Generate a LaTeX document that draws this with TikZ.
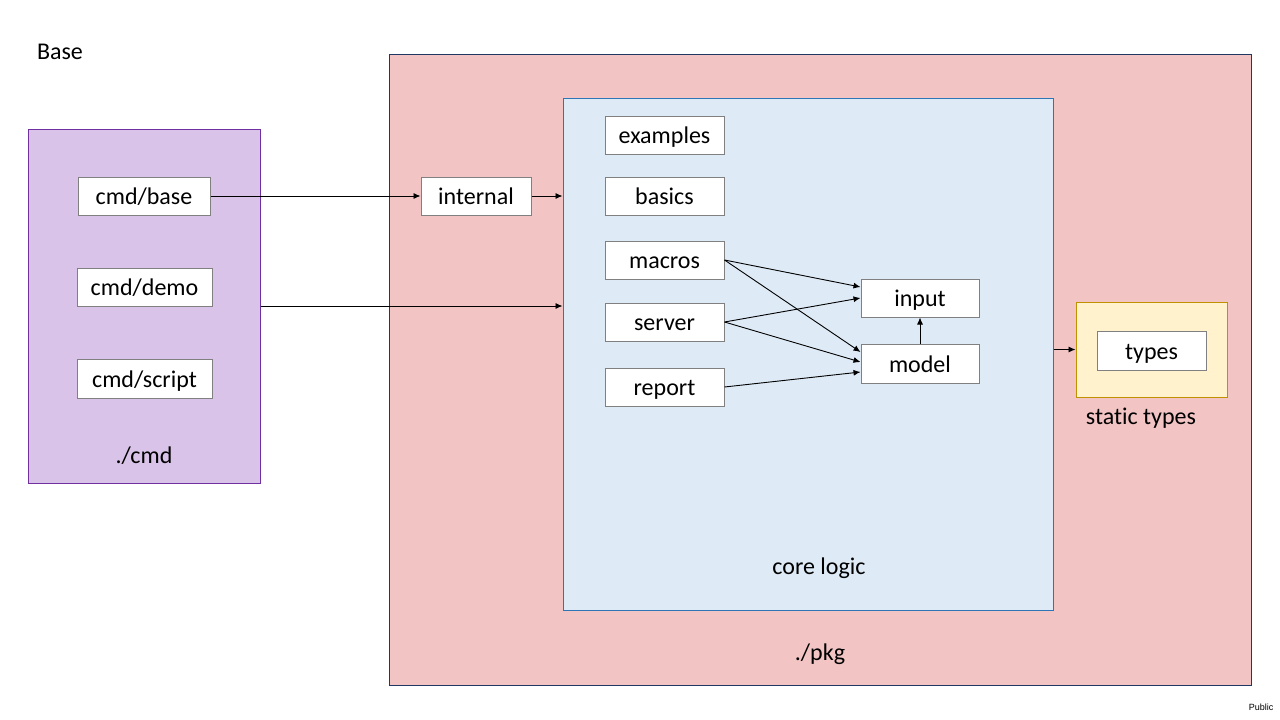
\documentclass[tikz,border=0pt]{standalone}
\usepackage{fontspec}
\setmainfont{Carlito}[Ligatures=NoCommon]
\newfontfamily\tagfont{Liberation Sans}
\usetikzlibrary{arrows.meta}
\definecolor{cmdfill}{HTML}{D9C3E9}
\definecolor{cmdline}{HTML}{7030A0}
\definecolor{pkgfill}{HTML}{F2C4C4}
\definecolor{pkgline}{HTML}{203864}
\definecolor{corefill}{HTML}{DEEBF7}
\definecolor{coreline}{HTML}{2E75B6}
\definecolor{typefill}{HTML}{FFF2CC}
\definecolor{typeline}{HTML}{BF9000}
\definecolor{boxgray}{HTML}{808080}
\begin{document}
\begin{tikzpicture}[x=1pt,y=-1pt,
group/.style={line width=1pt,inner sep=0pt},
txt/.style={text height=17pt,text depth=0pt},
box/.style={txt,draw=boxgray,fill=white,line width=1pt,inner sep=0pt,minimum height=38pt,minimum width=119pt},
arr/.style={-{Latex[length=7pt,width=6pt]},line width=0.9pt}
]
\fontsize{24}{28}\selectfont
\useasboundingbox[fill=white] (0,0) rectangle (1280,720);
% containers
\node[group,draw=cmdline,fill=cmdfill,minimum width=232pt,minimum height=354pt] (cmd) at (144,306) {};
\node[group,draw=pkgline,fill=pkgfill,minimum width=862pt,minimum height=631pt] (pkg) at (820,369.5) {};
\node[group,draw=coreline,fill=corefill,minimum width=490pt,minimum height=512pt] (core) at (808,354) {};
\node[group,draw=typeline,fill=typefill,minimum width=151pt,minimum height=95pt] (tybox) at (1151.5,349.5) {};
% labels
\node[txt] (base) at (60,51) {Base};
\node[txt] (cmdlbl) at (144,455) {./cmd};
\node[txt] (pkglbl) at (820,652) {./pkg};
\node[txt] (corelbl) at (819,566) {core logic};
\node[txt] (tylbl) at (1141,416) {static types};
\node (tag) at (1261,707) {\tagfont\fontsize{9}{10}\selectfont Public};
% packages
\node[box,minimum width=132pt] (cmdbase) at (144,196) {cmd/base};
\node[box,minimum width=135pt] (cmddemo) at (144.5,287) {cmd/demo};
\node[box,minimum width=135pt,minimum height=39pt] (cmdscript) at (144.5,378.5) {cmd/script};
\node[box,minimum width=110pt] (internal) at (476,196) {internal};
\node[box] (examples) at (664.5,135) {examples};
\node[box] (basics) at (664.5,196) {basics};
\node[box] (macros) at (664.5,260) {macros};
\node[box] (server) at (664.5,322) {server};
\node[box] (report) at (664.5,387) {report};
\node[box,minimum width=118pt] (input) at (920,298) {input};
\node[box,minimum width=118pt,minimum height=39pt] (model) at (920,363.5) {model};
\node[box,minimum width=109pt,minimum height=39pt] (types) at (1151.5,350.5) {types};
% imports
\draw[arr] (cmdbase.east) -- (internal.west);
\draw[arr] (internal.east) -- (internal.east -| core.west);
\draw[arr] (cmd.east) -- (cmd.east -| core.west);
\draw[arr] (macros.east) -- ([yshift=11pt]input.west);
\draw[arr] (macros.east) -- ([yshift=11.5pt]model.west);
\draw[arr] (server.east) -- (input.west);
\draw[arr] (server.east) -- ([yshift=1.5pt]model.west);
\draw[arr] (report.east) -- ([yshift=-8.5pt]model.west);
\draw[arr] (model.north) -- (input.south);
\draw[arr] (core.east |- tybox.west) -- (tybox.west);
\end{tikzpicture}
\end{document}
